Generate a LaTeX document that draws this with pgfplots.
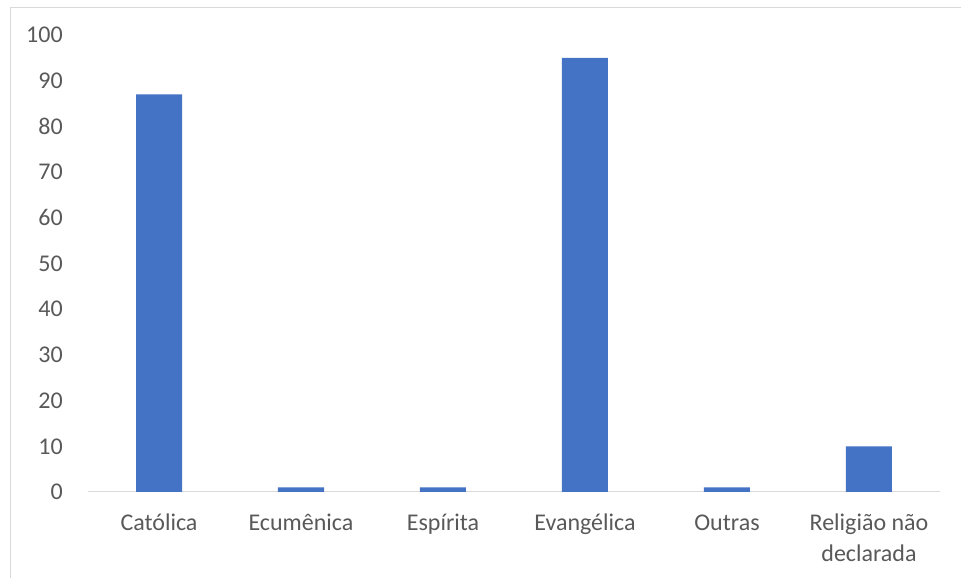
\documentclass[border=0pt]{standalone}
\usepackage{fontspec}
\setmainfont{Carlito}
\usepackage{pgfplots}
\pgfplotsset{compat=1.18}
\definecolor{barblue}{HTML}{4472C4}
\definecolor{axgray}{HTML}{D9D9D9}
\definecolor{txtgray}{HTML}{595959}
\setlength{\tabcolsep}{0pt}
\begin{document}
\begin{tikzpicture}[x=0.75pt,y=0.75pt]
\useasboundingbox (0,0) rectangle (961,578);
\draw[axgray, line width=0.75pt] (10,0) -- (10,570.5) -- (961,570.5);
\begin{axis}[
  at={(66pt,64.5pt)}, anchor=south west,
  width=639pt, height=342.75pt, scale only axis,
  xmin=-0.5, xmax=5.5, ymin=0, ymax=100,
  ybar, bar width=34.5pt,
  axis x line*=bottom, axis y line*=left,
  y axis line style={draw=none},
  x axis line style={axgray, line width=0.75pt, -},
  ytick={0,10,...,100}, xtick={0,...,5},
  xticklabels={Católica, Ecumênica, Espírita, Evangélica, Outras, {\begin{tabular}[t]{c}Religião não\\declarada\end{tabular}}},
  major tick length=0pt,
  tick label style={font=\fontsize{18}{23.25}\selectfont, text=txtgray, inner sep=0pt},
  x tick label style={anchor=base, yshift=-29.25pt},
  y tick label style={anchor=east, xshift=-18.75pt},
  /pgf/number format/assume math mode=true,
]
\addplot[fill=barblue, draw=none, bar shift=0pt] coordinates {(0,87) (1,1) (2,1) (3,95) (4,1) (5,10)};
\end{axis}
\end{tikzpicture}
\end{document}
